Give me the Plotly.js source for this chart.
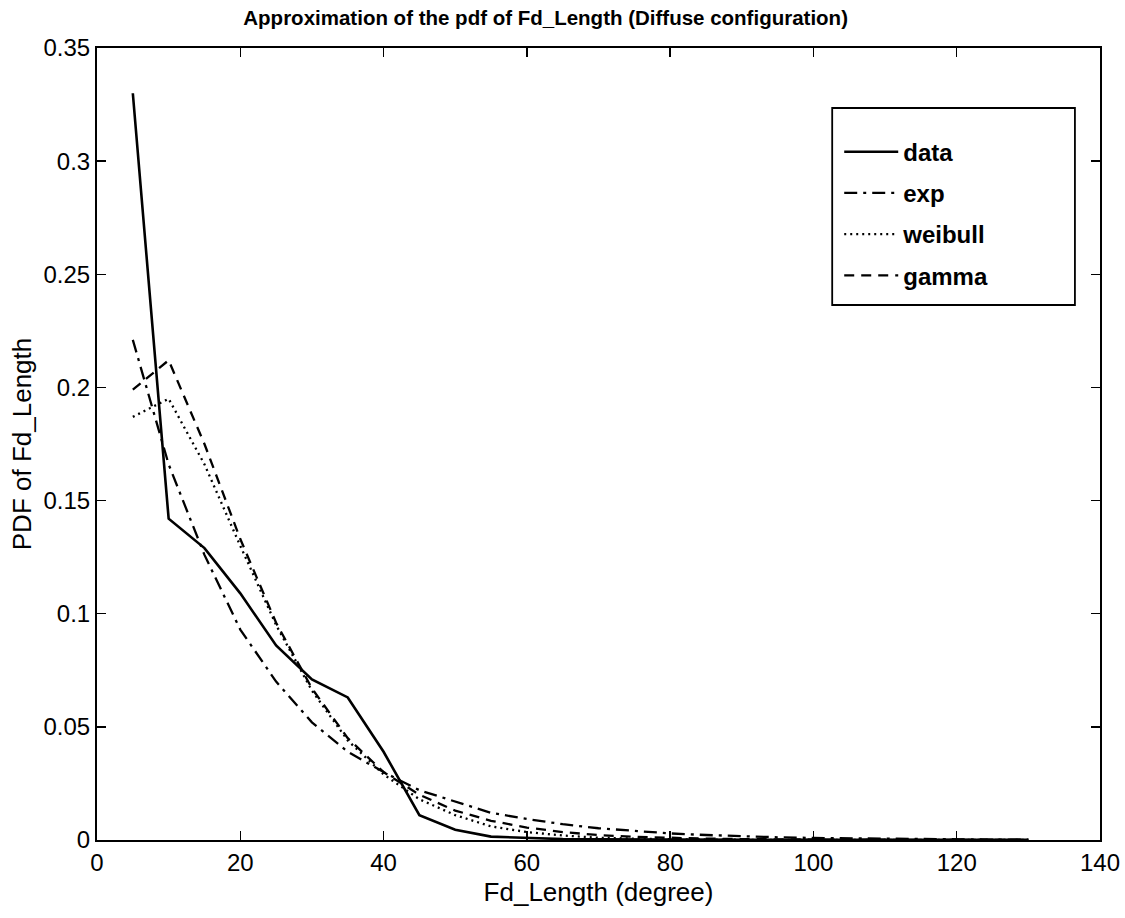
<!DOCTYPE html>
<html>
<head>
<meta charset="utf-8">
<script src="https://cdn.plot.ly/plotly-3.0.1.min.js"></script>
<style>html,body{margin:0;padding:0;background:#fff;}</style>
</head>
<body>
<div id="chart" style="width:1125px;height:918px;"></div>
<script>
// Fd_Length (degree) sample points
const xVals = [5,10,15,20,25,30,35,40,45,50,55,60,65,70,75,80,85,90,95,100,105,110,115,120,125,130];
// Empirical pdf
const dataPdf = [0.330,0.142,0.129,0.109,0.086,0.071,0.063,0.039,0.011,0.0045,0.0015,0.0008,0.0004,0.0003,0.0002,0.0002,0.0001,0.0001,0.0001,0.0001,0.0001,0.0001,0.0001,0.0001,0.0001,0.0001];
// Exponential fit
const expPdf = [0.221,0.166,0.126,0.093,0.070,0.052,0.039,0.030,0.022,0.017,0.012,0.0093,0.007,0.0052,0.0039,0.0029,0.0022,0.0016,0.0012,0.0009,0.0007,0.0005,0.0004,0.0003,0.0002,0.00015];
// Weibull fit
const weibullPdf = [0.187,0.195,0.166,0.130,0.095,0.066,0.044,0.029,0.018,0.011,0.006,0.0035,0.002,0.001,0.0006,0.0003,0.0002,0.0001,0.0001,0.0001,0,0,0,0,0,0];
// Gamma fit
const gammaPdf = [0.199,0.212,0.175,0.133,0.096,0.067,0.045,0.030,0.020,0.013,0.0085,0.0055,0.0035,0.0022,0.0014,0.0009,0.0006,0.0004,0.0002,0.00015,0.0001,0.0001,0,0,0,0];

const seriesNames = ['data','exp','weibull','gamma'];
const xTicks = [0,20,40,60,80,100,120,140];
const yTicks = [0,0.05,0.1,0.15,0.2,0.25,0.3,0.35];
const yTickText = ['0','0.05','0.1','0.15','0.2','0.25','0.3','0.35'];

const FONT = 'Liberation Sans, Arial, Helvetica, sans-serif';

const traces = [
  {x:xVals, y:dataPdf, name:seriesNames[0], legendgroup:'a', mode:'lines', line:{color:'#000', width:2.6}},
  {x:xVals, y:expPdf, name:seriesNames[1], legendgroup:'b', mode:'lines', line:{color:'#000', width:2.3, dash:'13px,6px,3px,6px'}},
  {x:xVals, y:weibullPdf, name:seriesNames[2], legendgroup:'c', mode:'lines', line:{color:'#000', width:2.3, dash:'2px,4px'}},
  {x:xVals, y:gammaPdf, name:seriesNames[3], legendgroup:'d', mode:'lines', line:{color:'#000', width:2.3, dash:'10px,7px'}}
];

const layout = {
  width:1125, height:918,
  margin:{l:97, r:25, t:48, b:78},
  paper_bgcolor:'#fff', plot_bgcolor:'#fff',
  font:{family:FONT, color:'#000'},
  title:{text:'Approximation of the pdf of Fd_Length (Diffuse configuration)',
    font:{size:20.5, family:FONT, color:'#000', weight:'bold'},
    x:0.485, xanchor:'center', xref:'container', y:0.981, yanchor:'middle', yref:'container'},
  xaxis:{range:[0,140], tickvals:xTicks, ticks:'inside', ticklen:9, tickwidth:1.5, tickcolor:'#000',
    showline:true, linecolor:'#000', linewidth:2, mirror:'ticks', showgrid:false, zeroline:false,
    tickfont:{size:24, family:FONT, color:'#000'},
    title:{text:'Fd_Length (degree)', font:{size:26, family:FONT, color:'#000'}, standoff:8}},
  yaxis:{range:[0,0.35], tickvals:yTicks, ticktext:yTickText, ticks:'inside', ticklen:9, tickwidth:1.5, tickcolor:'#000',
    showline:true, linecolor:'#000', linewidth:2, mirror:'ticks', showgrid:false, zeroline:false,
    tickfont:{size:24, family:FONT, color:'#000'},
    title:{text:'PDF of Fd_Length', font:{size:26, family:FONT, color:'#000'}, standoff:4}},
  showlegend:true,
  legend:{x:0.74, y:0.897, xanchor:'left', yanchor:'top', bgcolor:'rgba(0,0,0,0)', borderwidth:0,
    font:{size:24, family:FONT, color:'#000', weight:'bold'}, traceorder:'grouped', tracegroupgap:7, itemwidth:54},
  shapes:[{type:'rect', xref:'paper', yref:'paper', x0:0.733, x1:0.975, y0:(840-305)/792, y1:(840-108)/792,
    line:{color:'#000', width:1.8}, fillcolor:'rgba(0,0,0,0)'}]
};

Plotly.newPlot('chart', traces, layout, {displayModeBar:false, staticPlot:true});
</script>
</body>
</html>
